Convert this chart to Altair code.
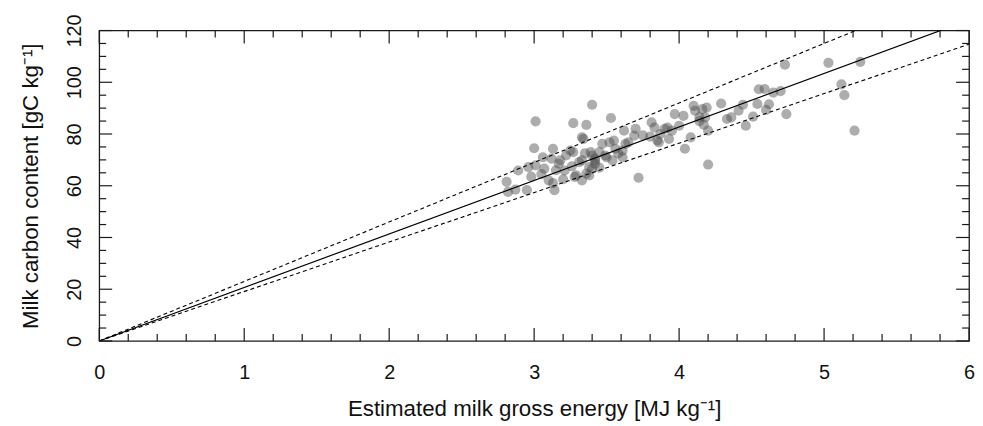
import altair as alt
import pandas as pd

# ---- data ----
energy = [2.81, 2.82, 2.87, 2.89, 2.95, 2.96, 2.98, 3.00, 3.01, 3.01, 3.05, 3.06, 3.07, 3.10,
          3.12, 3.13, 3.13, 3.14, 3.15, 3.17, 3.18, 3.20, 3.21, 3.22, 3.25, 3.26, 3.27, 3.27,
          3.28, 3.29, 3.31, 3.33, 3.33, 3.33, 3.34, 3.35, 3.36, 3.36, 3.38, 3.38, 3.39, 3.40,
          3.40, 3.40, 3.42, 3.42, 3.42, 3.45, 3.45, 3.47, 3.49, 3.50, 3.52, 3.53, 3.54, 3.55,
          3.56, 3.58, 3.61, 3.61, 3.62, 3.63, 3.65, 3.69, 3.70, 3.72, 3.75, 3.80, 3.81, 3.83,
          3.85, 3.86, 3.87, 3.90, 3.92, 3.93, 3.95, 3.97, 4.00, 4.03, 4.04, 4.08, 4.10, 4.11,
          4.14, 4.14, 4.16, 4.17, 4.18, 4.19, 4.20, 4.20, 4.29, 4.33, 4.36, 4.41, 4.44, 4.46,
          4.51, 4.54, 4.55, 4.59, 4.60, 4.62, 4.65, 4.70, 4.73, 4.74, 5.03, 5.12, 5.14, 5.21,
          5.25]
carbon = [61.5, 57.6, 58.5, 65.9, 58.3, 67.2, 63.5, 74.5, 84.9, 67.9, 64.5, 71.0, 66.6, 62.1,
          70.5, 74.3, 61.0, 58.3, 66.0, 68.5, 69.8, 62.5, 65.9, 71.7, 73.6, 67.5, 84.2, 73.0,
          63.4, 64.0, 69.1, 78.7, 69.8, 62.1, 78.1, 72.5, 83.5, 64.7, 67.2, 64.0, 73.0, 91.3,
          71.7, 66.6, 69.8, 70.5, 68.5, 73.0, 67.0, 76.2, 71.7, 71.0, 76.8, 86.2, 69.8, 77.5,
          74.3, 72.5, 73.6, 71.0, 81.3, 76.2, 76.8, 79.4, 82.0, 63.1, 79.5, 79.0, 84.5, 82.5,
          77.5, 76.8, 80.0, 82.0, 82.5, 78.1, 81.3, 87.7, 83.2, 87.0, 74.3, 78.7, 90.9, 89.0,
          86.4, 85.0, 89.6, 83.6, 86.4, 90.2, 81.3, 68.2, 91.8, 85.8, 86.4, 89.0, 91.3, 83.2,
          86.7, 91.6, 97.3, 97.4, 89.3, 91.5, 96.0, 96.6, 106.8, 87.7, 107.5, 99.2, 95.0, 81.3,
          107.9]

fit_slope = 20.68     # solid line through origin
upper_slope = 23.0    # upper dashed line
lower_slope = 19.12   # lower dashed line
line_x = [0, 6]

x_major = [0, 1, 2, 3, 4, 5, 6]
x_minor = [round(i * 0.2, 1) for i in range(31) if i % 5 != 0]
y_major = [0, 20, 40, 60, 80, 100, 120]
y_minor = [v for v in range(0, 121, 5) if v % 20 != 0]

x_title = "Estimated milk gross energy [MJ kg\u207b\u00b9]"
y_title = "Milk carbon content [gC kg\u207b\u00b9]"

W, H = 877, 313
FONT = "Liberation Sans"

pts = pd.DataFrame({"x": energy, "y": carbon})
fit = pd.DataFrame({"x": line_x, "y": [fit_slope * v for v in line_x]})
bands = pd.DataFrame({
    "x": line_x + line_x,
    "y": [upper_slope * v for v in line_x] + [lower_slope * v for v in line_x],
    "band": ["upper", "upper", "lower", "lower"],
})

xs = alt.Scale(domain=[0, 6], nice=False, zero=False)
ys = alt.Scale(domain=[0, 120], nice=False, zero=False)

x_axis = alt.Axis(values=x_major, format="d", ticks=False, tickSize=0, domain=False, grid=False,
                  labelPadding=38, labelBaseline="alphabetic", labelFlush=False,
                  title=x_title, titleY=75, titleBaseline="alphabetic")
y_axis = alt.Axis(values=y_major, format="d", ticks=False, tickSize=0, domain=False, grid=False,
                  labelAngle=270, labelAlign="center", labelBaseline="alphabetic", labelPadding=19,
                  labelFlush=False, title=y_title, titleX=-62, titleBaseline="alphabetic")


def X(field):
    return alt.X(field, scale=xs, axis=x_axis)


def Y(field):
    return alt.Y(field, scale=ys, axis=y_axis)


points = alt.Chart(pts).mark_circle(size=105, color="#4a4a4a", opacity=0.45).encode(
    x=X("x:Q"), y=Y("y:Q"))

fit_line = alt.Chart(fit).mark_line(color="black", strokeWidth=1.2, clip=True).encode(
    x=X("x:Q"), y=Y("y:Q"))

band_lines = alt.Chart(bands).mark_line(color="black", strokeWidth=1.1, strokeDash=[4, 3], clip=True).encode(
    x=X("x:Q"), y=Y("y:Q"), detail="band:N")


def xticks(vals, length):
    d = pd.DataFrame({"v": vals})
    base = alt.Chart(d).mark_rule(color="#1a1a1a", strokeWidth=1.2)
    bot = base.encode(x=X("v:Q"), y=alt.value(H), y2=alt.value(H - length))
    top = base.encode(x=X("v:Q"), y=alt.value(0), y2=alt.value(length))
    return [bot, top]


def yticks(vals, length):
    d = pd.DataFrame({"v": vals})
    base = alt.Chart(d).mark_rule(color="#1a1a1a", strokeWidth=1.2)
    left = base.encode(y=Y("v:Q"), x=alt.value(0), x2=alt.value(length))
    right = base.encode(y=Y("v:Q"), x=alt.value(W), x2=alt.value(W - length))
    return [left, right]


layers = [points, band_lines, fit_line] + xticks(x_major, 13) + xticks(x_minor, 7) \
    + yticks(y_major, 13) + yticks(y_minor, 7)

chart = alt.layer(*layers).properties(
    width=W, height=H,
    padding={"left": 92, "top": 21, "right": 6, "bottom": 81},
    autosize=alt.AutoSizeParams(type="none"),
    background="white",
).configure_view(
    stroke="#1a1a1a", strokeWidth=1.3
).configure_axis(
    labelFont=FONT, labelFontSize=20, labelColor="#111111",
    titleFont=FONT, titleFontSize=22.5, titleFontWeight="normal", titleColor="#111111",
)

chart.save("out.html", embed_options={"renderer": "svg", "actions": False})
